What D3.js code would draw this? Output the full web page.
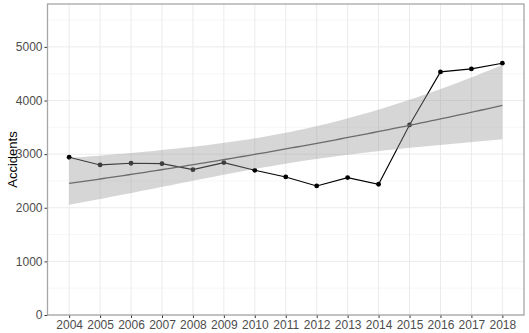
<!DOCTYPE html>
<html>
<head>
<meta charset="utf-8">
<script src="https://cdn.jsdelivr.net/npm/d3@7"></script>
<style>
  body { margin: 0; background: #fff; }
  text { font-family: "Liberation Sans", Arial, sans-serif; }
</style>
</head>
<body>
<script>
const years = [2004, 2005, 2006, 2007, 2008, 2009, 2010, 2011, 2012, 2013, 2014, 2015, 2016, 2017, 2018]
const accidents = [2942, 2799, 2830, 2823, 2711, 2842, 2699, 2575, 2407, 2562, 2438, 3545, 4534, 4590, 4696]
const yTicks = [0, 1000, 2000, 3000, 4000, 5000]
const yMinor = [500, 1500, 2500, 3500, 4500, 5500]

const W = 529, H = 333
const margin = {top: 4, right: 5, bottom: 18, left: 47.5}
const width = W - margin.left - margin.right
const height = H - margin.top - margin.bottom

// Gamma glm with log link (geom_smooth(method = "glm")), 95% band
function fitGlm(xs, ys){
    const n = xs.length, x0 = 2011
    let mu = ys.slice(), b = [0, 0], A
    for (let it = 0; it < 40; it++){
        let s00 = 0, s01 = 0, s11 = 0, r0 = 0, r1 = 0
        for (let i = 0; i < n; i++){
            const t = xs[i] - x0
            const z = Math.log(mu[i]) + (ys[i] - mu[i]) / mu[i]
            s00 += 1; s01 += t; s11 += t * t
            r0 += z; r1 += t * z
        }
        const det = s00 * s11 - s01 * s01
        b = [(s11 * r0 - s01 * r1) / det, (s00 * r1 - s01 * r0) / det]
        A = [[s11 / det, -s01 / det], [-s01 / det, s00 / det]]
        mu = xs.map(x => Math.exp(b[0] + b[1] * (x - x0)))
    }
    let chi = 0
    for (let i = 0; i < n; i++) chi += ((ys[i] - mu[i]) / mu[i]) ** 2
    const phi = chi / (n - 2)
    const q = 1.959964
    return d3.range(0, 81).map(k => {
        const x = xs[0] + (xs[n - 1] - xs[0]) * k / 80
        const t = x - x0
        const eta = b[0] + b[1] * t
        const se = Math.sqrt(phi * (A[0][0] + 2 * t * A[0][1] + t * t * A[1][1]))
        return {x: x, y: Math.exp(eta), lo: Math.exp(eta - q * se), hi: Math.exp(eta + q * se)}
    })
}

const svg = d3.select("body").append("svg")
    .attr("width", W)
    .attr("height", H)
const g = svg.append("g")
    .attr("transform", "translate(" + margin.left + "," + margin.top + ")")

const x = d3.scaleLinear().domain([2003.3, 2018.7]).range([0, width])
const y = d3.scaleLinear().domain([0, 5800]).range([height, 0])

// grid
g.selectAll(".minor").data(yMinor).enter().append("line")
    .attr("x1", 0).attr("x2", width)
    .attr("y1", d => y(d)).attr("y2", d => y(d))
    .attr("stroke", "#f4f4f4").attr("stroke-width", 0.8)
g.selectAll(".hmajor").data(yTicks).enter().append("line")
    .attr("x1", 0).attr("x2", width)
    .attr("y1", d => y(d)).attr("y2", d => y(d))
    .attr("stroke", "#ebebeb").attr("stroke-width", 1)
g.selectAll(".vmajor").data(years).enter().append("line")
    .attr("x1", d => x(d)).attr("x2", d => x(d))
    .attr("y1", 0).attr("y2", height)
    .attr("stroke", "#ebebeb").attr("stroke-width", 1)

// data line and points
const pts = years.map((yr, i) => [yr, accidents[i]])
g.append("path")
    .datum(pts)
    .attr("fill", "none")
    .attr("stroke", "#000")
    .attr("stroke-width", 1.1)
    .attr("d", d3.line().x(d => x(d[0])).y(d => y(d[1])))
g.selectAll(".pt").data(pts).enter().append("circle")
    .attr("cx", d => x(d[0])).attr("cy", d => y(d[1]))
    .attr("r", 2.4).attr("fill", "#000")

// smooth
const fit = fitGlm(years, accidents)
g.append("path")
    .datum(fit)
    .attr("fill", "#999999")
    .attr("fill-opacity", 0.4)
    .attr("d", d3.area().x(d => x(d.x)).y0(d => y(d.lo)).y1(d => y(d.hi)))
g.append("path")
    .datum(fit)
    .attr("fill", "none")
    .attr("stroke", "#6b6b6b")
    .attr("stroke-width", 1.3)
    .attr("d", d3.line().x(d => x(d.x)).y(d => y(d.y)))

// axes
const xAxis = g.append("g")
    .attr("transform", "translate(0," + height + ")")
    .call(d3.axisBottom(x).tickValues(years).tickFormat(d3.format("d")).tickSize(3).tickPadding(2))
const yAxis = g.append("g")
    .call(d3.axisLeft(y).tickValues(yTicks).tickFormat(d3.format("d")).tickSize(3).tickPadding(2))
for (const ax of [xAxis, yAxis]) {
    ax.select(".domain").remove()
    ax.selectAll("line").attr("stroke", "#333")
    ax.selectAll("text").attr("fill", "#4d4d4d").style("font-size", "12px")
}

// panel border
g.append("rect")
    .attr("width", width).attr("height", height)
    .attr("fill", "none")
    .attr("stroke", "#a6a6a6")
    .attr("stroke-width", 1.3)

svg.append("text")
    .attr("transform", "translate(17," + (margin.top + height / 2) + ") rotate(-90)")
    .attr("text-anchor", "middle")
    .style("font-size", "13px")
    .attr("fill", "#000")
    .text("Accidents")
</script>
</body>
</html>
